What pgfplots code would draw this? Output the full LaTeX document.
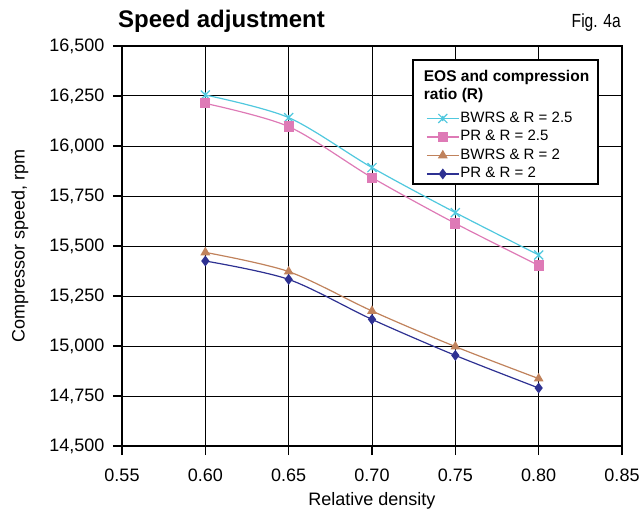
\documentclass[border=0pt]{standalone}
\usepackage{pgfplots}
\pgfplotsset{compat=1.18}
\usepackage{fontspec}
\setmainfont{Liberation Sans}
\usepackage{graphicx}
\definecolor{ccyan}{RGB}{80,200,222}
\definecolor{cpink}{RGB}{222,122,182}
\definecolor{cbrown}{RGB}{192,130,92}
\definecolor{cnavy}{RGB}{46,49,146}
\pgfdeclareplotmark{xstar}{%
  \pgfpathmoveto{\pgfqpoint{-\pgfplotmarksize}{-\pgfplotmarksize}}%
  \pgfpathlineto{\pgfqpoint{\pgfplotmarksize}{\pgfplotmarksize}}%
  \pgfpathmoveto{\pgfqpoint{-\pgfplotmarksize}{\pgfplotmarksize}}%
  \pgfpathlineto{\pgfqpoint{\pgfplotmarksize}{-\pgfplotmarksize}}%
  \pgfpathmoveto{\pgfqpoint{0pt}{-0.6\pgfplotmarksize}}%
  \pgfpathlineto{\pgfqpoint{0pt}{0.6\pgfplotmarksize}}%
  \pgfusepathqstroke}
\begin{document}
\begin{tikzpicture}
\path[use as bounding box] (0pt,0pt) rectangle (644pt,512pt);
\node[anchor=base west, inner sep=0pt, font=\fontsize{24}{28}\selectfont\bfseries] at (118pt,484pt) {Speed adjustment};
\node[anchor=base east, inner sep=0pt] at (621pt,484pt) {\scalebox{0.82}[1]{\fontsize{19}{22}\selectfont Fig. 4a}};
\begin{axis}[
  at={(122pt,66pt)}, anchor=south west,
  scale only axis, width=500pt, height=400pt,
  xmin=0.55, xmax=0.85, ymin=14500, ymax=16500,
  xtick={0.55,0.60,0.65,0.70,0.75,0.80,0.85},
  ytick={14500,14750,15000,15250,15500,15750,16000,16250,16500},
  scaled ticks=false,
  tick pos=left, tick align=outside,
  major tick length=9pt,
  tick style={black, line width=1.5pt},
  axis line style={black, line width=2pt},
  grid=major,
  major grid style={black, line width=1pt},
  ticklabel style={font=\fontsize{18}{21}\selectfont},
  /pgf/number format/assume math mode=true,
  xticklabel style={yshift=-10pt, /pgf/number format/.cd, fixed, fixed zerofill, precision=2},
  yticklabel style={xshift=-5pt, /pgf/number format/.cd, fixed, precision=0, 1000 sep={,}},
  xlabel={Relative density},
  ylabel={Compressor speed, rpm},
  xlabel style={at={(axis description cs:0.5,-0.138)}, anchor=center},
  ylabel style={at={(axis description cs:-0.204,0.5)}, anchor=center},
  label style={font=\fontsize{18}{21}\selectfont},
  legend cell align=left,
  legend style={at={(axis cs:0.7306,16195)}, anchor=north west, draw=none, fill=none,
    font=\fontsize{15}{18}\selectfont, row sep=0pt,
    nodes={inner sep=1pt, text height=12pt, text depth=4.5pt}},
  legend image code/.code={\draw[mark repeat=2, mark phase=2, #1] plot coordinates {(0pt,0pt) (16pt,0pt) (32pt,0pt)};},
]
\addplot[ccyan, line width=1.2pt, smooth, mark=xstar, mark size=4.5pt, mark options={line width=1.2pt}]
  coordinates {(0.60,16255) (0.65,16142) (0.70,15892) (0.75,15667) (0.80,15455)};
\addlegendentry{BWRS \& R = 2.5}
\addplot[cpink, line width=1.2pt, smooth, mark=square*, mark size=4.5pt]
  coordinates {(0.60,16213) (0.65,16097) (0.70,15842) (0.75,15613) (0.80,15403)};
\addlegendentry{PR \& R = 2.5}
\addplot[cbrown, line width=1.2pt, smooth, mark=triangle*, mark size=4.5pt]
  coordinates {(0.60,15468) (0.65,15372) (0.70,15175) (0.75,14997) (0.80,14837)};
\addlegendentry{BWRS \& R = 2}
\addplot[cnavy, line width=1.2pt, smooth, mark=diamond*, mark size=4.5pt]
  coordinates {(0.60,15425) (0.65,15333) (0.70,15133) (0.75,14953) (0.80,14790)};
\addlegendentry{PR \& R = 2}
\draw[fill=white, line width=1.5pt] (axis cs:0.7246,15810) rectangle (axis cs:0.8356,16430);
\node[anchor=north west, align=left, inner sep=0pt, font=\fontsize{15.5}{18.5}\selectfont\bfseries]
  at (axis cs:0.7310,16380) {EOS and compression\\ratio (R)};
\end{axis}
\end{tikzpicture}
\end{document}
